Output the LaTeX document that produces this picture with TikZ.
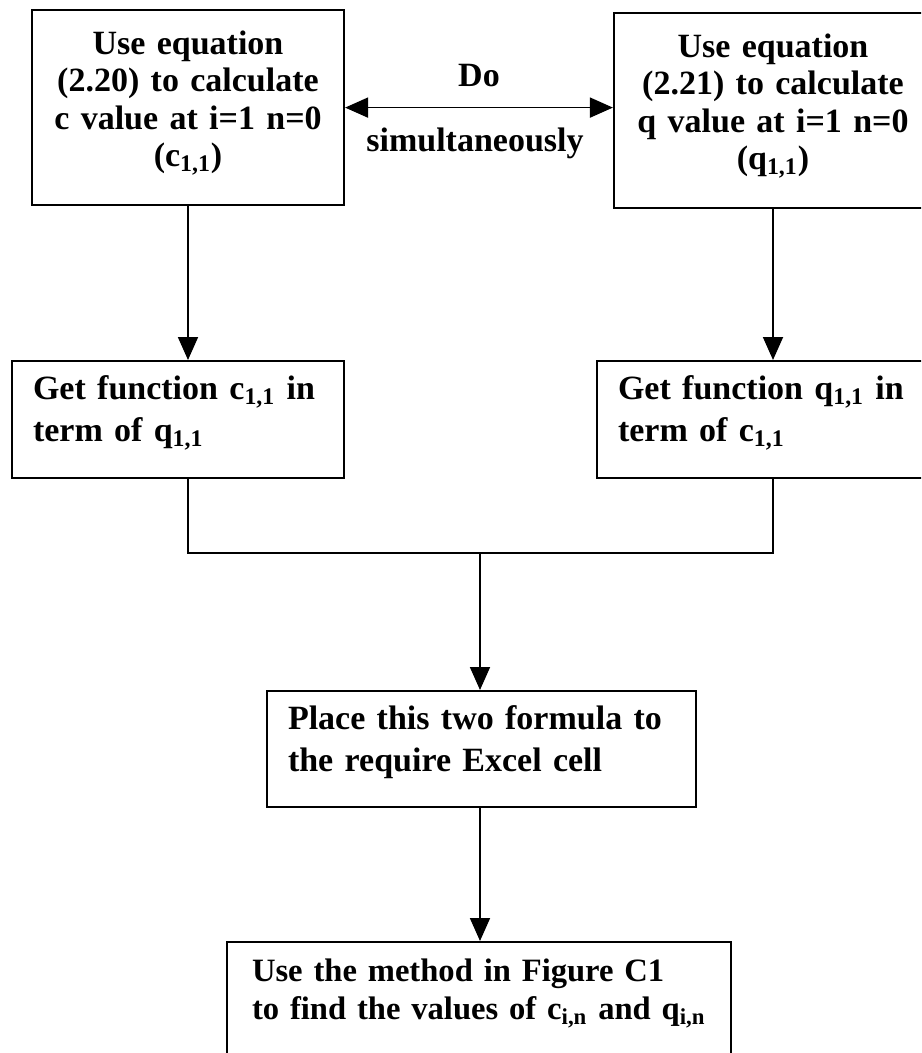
\documentclass[tikz,border=0pt]{standalone}
\usepackage{fontspec}
\setmainfont{Liberation Serif}
\usepackage{tikz}
\usetikzlibrary{arrows.meta,calc}

\tikzset{
  flowbox/.style={draw,line width=1.1pt,anchor=north,inner ysep=0pt},
  centrebox/.style={flowbox,align=center,inner xsep=0pt,text height=22pt,text depth=75.5pt,
    font=\bfseries\fontsize{17}{18.75}\selectfont},
  leftbox/.style={flowbox,align=left,inner xsep=10.5pt,text height=19pt,text depth=39.5pt,
    font=\bfseries\fontsize{17}{21}\selectfont},
  endbox/.style={flowbox,align=left,inner xsep=12.5pt,text height=19.5pt,text depth=60pt,
    font=\bfseries\fontsize{16.3}{19}\selectfont},
  note/.style={anchor=base,inner sep=0pt,font=\bfseries\fontsize{17}{18.75}\selectfont},
  link/.style={line width=0.9pt}
}

\begin{document}
\begin{tikzpicture}[line cap=butt,line join=miter,>={Triangle[length=11.5pt,width=10pt]},x=0.5pt,y=-0.5pt]
\path[use as bounding box,clip] (0,0) rectangle (921,1053);
\node[centrebox,text width=156pt] (useC) at (188,9) {Use equation\\(2.20) to calculate\\c value at i=1 n=0\\(c\textsubscript{1,1})};
\node[centrebox,text width=159pt] (useQ) at (773,12) {Use equation\\(2.21) to calculate\\q value at i=1 n=0\\(q\textsubscript{1,1})};
\node[note] (doLbl) at (479,87) {Do};
\node[note] (simLbl) at (475,152) {simultaneously};
\node[leftbox,text width=145pt] (funC) at (178,360) {Get function c\textsubscript{1,1} in\\term of q\textsubscript{1,1}};
\node[leftbox,text width=145pt] (funQ) at (763,360) {Get function q\textsubscript{1,1} in\\term of c\textsubscript{1,1}};
\node[leftbox,text width=193.5pt,text depth=39pt] (place) at (481.5,690) {Place this two formula to\\the require Excel cell};
\node[endbox,text width=227pt] (final) at (479,941) {Use the method in Figure C1\\to~find~the~values~of~c\textsubscript{i,n}~and~q\textsubscript{i,n}};
\coordinate (meet) at (480,553);
\draw [link,<->] (useC.east) -- (useC.east -| useQ.west);
\draw [link,->] (useC.south) -- (useC.south |- funC.north);
\draw [link,->] (useQ.south) -- (useQ.south |- funQ.north);
\draw [link] (funC.south -| useC.south) |- (meet) -| (funQ.south -| useQ.south);
\draw [link,->] (meet) -- (meet |- place.north);
\draw [link,->] (place.south -| meet) -- (meet |- final.north);
\end{tikzpicture}
\end{document}
